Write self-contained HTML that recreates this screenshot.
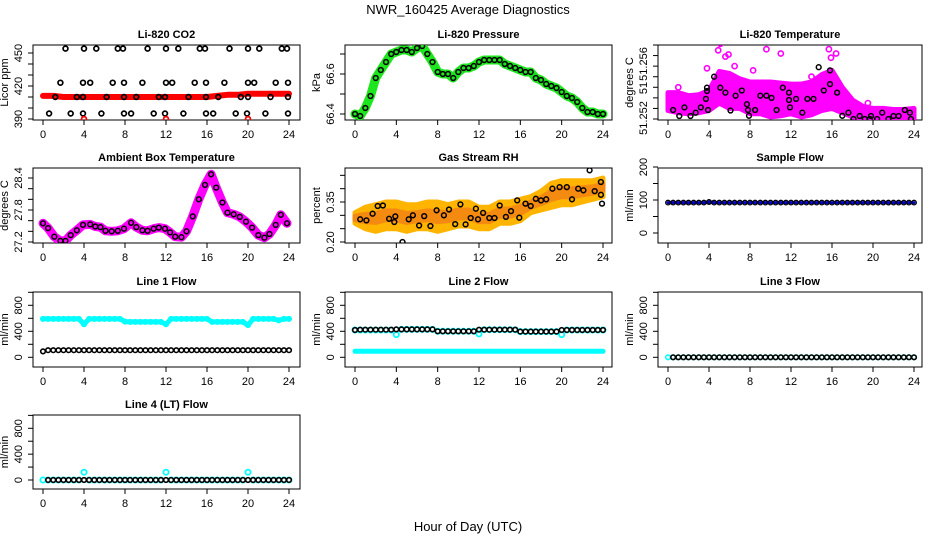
<!DOCTYPE html>
<html><head><meta charset="utf-8"><style>
html,body{margin:0;padding:0;background:#fff;}
svg{display:block;font-family:"Liberation Sans",sans-serif;}
</style></head><body>
<svg id="chart" width="936" height="540" viewBox="0 0 936 540" xmlns="http://www.w3.org/2000/svg">
<rect x="0" y="0" width="936" height="540" fill="#fff"/>
<text x="468" y="14" text-anchor="middle" font-size="13">NWR_160425  Average Diagnostics</text>
<text x="468" y="531" text-anchor="middle" font-size="13">Hour of Day (UTC)</text>
</svg>
<script>
const xTicks=[0,4,8,12,16,20,24];
const halfHours=[0,0.5,1,1.5,2,2.5,3,3.5,4,4.5,5,5.5,6,6.5,7,7.5,8,8.5,9,9.5,10,10.5,11,11.5,12,12.5,13,13.5,14,14.5,15,15.5,16,16.5,17,17.5,18,18.5,19,19.5,20,20.5,21,21.5,22,22.5,23,23.5,24];
const hours=[0,1,2,3,4,5,6,7,8,9,10,11,12,13,14,15,16,17,18,19,20,21,22,23,24];

const co2Band=[411,411,410,410,410,410,410,410,410,410,410,410,410,410,410,410,410,411,412,412,413,413,413,413,413];
const co2Hours=[2.2,4.0,5.2,7.3,7.8,10.2,12.0,13.2,15.3,15.8,18.2,20.0,21.1,23.3,23.8,1.7,3.9,4.6,6.8,7.9,9.7,12.0,12.6,14.8,15.9,17.7,20.0,20.6,22.7,23.9,1.2,3.3,3.9,6.2,7.9,9.1,11.3,11.9,14.2,15.9,17.1,19.3,20.0,22.2,23.9,0.6,2.7,3.9,5.7,7.9,8.6,10.8,11.9,13.7,15.9,16.6,18.8,19.9,21.7,23.9];
const co2Vals=[454,454,454,454,454,454,454,454,454,454,454,454,454,454,454,423,423,423,423,423,423,423,423,423,423,423,423,423,423,423,410,410,410,410,410,410,410,410,410,410,410,410,410,410,410,395,395,395,395,395,395,395,395,395,395,395,395,395,395,395];
const co2RedHours=[4.0,12.0,20.0];
const co2RedVals=[390,390,390];

const pressVals=[66.40,66.39,66.43,66.49,66.58,66.62,66.66,66.70,66.71,66.72,66.72,66.71,66.73,66.74,66.70,66.66,66.61,66.60,66.60,66.58,66.61,66.63,66.63,66.64,66.66,66.67,66.67,66.67,66.67,66.65,66.64,66.63,66.62,66.61,66.61,66.58,66.57,66.55,66.54,66.53,66.51,66.49,66.48,66.46,66.43,66.41,66.41,66.40,66.40];

const tempUpper=[2.5,2.5,2.2,2.3,2.7,4.5,4.3,3.8,3.5,3.5,3.5,3.4,3.3,3.3,3.5,4.2,4.6,3.0,1.8,1.2,1.0,1.0,0.9,0.9,1.0];
const tempLower=[0.8,0.6,0.5,0.6,0.8,1.5,1.0,1.0,0.5,0.5,0.2,0.3,0.5,0.2,0.4,0.8,1.0,0.6,0.2,0.0,0.0,0.0,0.0,0.0,0.0];
const tempOutHours=[5.1,4.9,5.6,5.9,3.8,6.5,8.3,9.6,11.0,15.7,16.4,15.9,19.5,1.0,14.0];
const tempOutVals=[7.1,6.5,5.9,6.1,4.8,5.0,4.6,6.6,6.2,6.6,6.2,5.8,1.5,3.0,4.0];
const tempHours=[0.5,1.1,1.6,2.2,2.7,3.2,3.7,3.8,3.8,3.9,4.5,5.1,5.6,6.1,6.6,7.2,7.7,7.8,7.9,8.5,9.0,9.6,10.1,10.6,11.2,11.8,11.8,11.9,12.5,13.1,13.6,14.2,14.7,15.2,15.8,15.8,16.5,17.0,17.6,18.1,18.7,19.2,19.7,19.8,20.4,20.9,21.5,22.0,22.5,23.1,23.6,23.7];
const tempVals=[0.85,0.28,1.1,0.28,0.6,1.1,1.9,2.96,2.65,0.85,4.0,2.96,2.5,0.8,2.2,2.7,1.4,0.85,0.3,0.85,2.2,2.2,2.0,0.85,2.96,2.5,1.8,1.1,1.9,0.6,1.9,1.9,4.9,2.7,3.3,4.6,2.5,0.3,0.6,0.0,0.28,0.0,0.0,0.28,0.0,0.6,0.0,0.28,0.28,0.85,0.6,0.0];
const tempTickVals=[0,1,2,3,4,5,6,7];

const ambHours=[0,0.5,1.1,1.7,2.2,2.7,3.3,3.9,4.6,5.1,5.6,6.1,6.7,7.3,7.9,8.6,9.1,9.7,10.2,10.8,11.3,11.9,12.4,12.9,13.5,14.0,14.6,15.2,15.8,16.4,16.9,17.5,18.0,18.6,19.2,19.8,20.4,21.0,21.6,22.1,22.7,23.2,23.8];
const ambVals=[27.55,27.46,27.30,27.22,27.22,27.33,27.42,27.52,27.53,27.49,27.48,27.41,27.40,27.41,27.45,27.56,27.48,27.42,27.41,27.45,27.47,27.45,27.38,27.30,27.29,27.40,27.68,28.00,28.27,28.47,28.22,27.94,27.75,27.72,27.67,27.58,27.47,27.33,27.28,27.35,27.52,27.71,27.55];
const ambTicks=[27.2,27.4,27.6,27.8,28.0,28.2,28.4];
const ambLabels=['27.2','','','27.8','','','28.4'];

const rhUpper=[0.31,0.33,0.34,0.35,0.35,0.34,0.34,0.35,0.35,0.34,0.35,0.35,0.33,0.33,0.35,0.35,0.36,0.37,0.39,0.42,0.43,0.43,0.43,0.43,0.44];
const rhLower=[0.27,0.25,0.24,0.25,0.25,0.24,0.25,0.25,0.24,0.25,0.26,0.26,0.25,0.25,0.27,0.27,0.28,0.31,0.32,0.33,0.34,0.34,0.35,0.36,0.37];
const rhHours=[0.5,1.1,1.7,2.2,2.7,3.3,3.8,3.9,4.6,5.2,5.6,6.2,6.7,7.3,7.9,8.6,9.1,9.7,10.2,10.7,11.2,11.7,11.9,12.4,13.0,13.5,14.0,14.6,15.1,15.7,15.9,16.5,17.0,17.5,18.0,18.5,19.1,19.8,20.5,21.0,21.6,22.1,22.7,23.2,23.8,23.8,23.9];
const rhVals=[0.285,0.281,0.306,0.335,0.337,0.287,0.275,0.296,0.20,0.285,0.30,0.262,0.297,0.26,0.319,0.30,0.322,0.267,0.341,0.266,0.29,0.325,0.285,0.309,0.29,0.29,0.337,0.294,0.316,0.356,0.291,0.344,0.335,0.362,0.356,0.36,0.40,0.406,0.406,0.36,0.40,0.394,0.469,0.391,0.425,0.377,0.344];
const rhTicks=[0.20,0.25,0.30,0.35,0.40,0.45];
const rhLabels=['0.20','','','0.35','',''];

const sampleVals=[92,92,92,92,92,92,92,92,94,92,92,92,92,92,92,92,92,92,92,92,92,92,92,92,92,92,92,92,92,92,92,92,92,92,92,92,92,92,92,92,92,92,92,92,92,92,92,92,92];
const sampleTicks=[0,50,100,150,200];
const sampleLabels=['0','','100','','200'];

const flowTicks=[0,200,400,600,800,1000];
const flowLabels=['0','','400','','800',''];
const line1Cyan=[590,590,590,590,590,590,590,590,510,590,590,590,590,590,590,590,550,545,545,545,545,545,545,545,510,590,590,590,590,590,590,590,590,545,545,545,545,545,545,545,495,590,590,590,590,590,570,590,590];
const line1Black=[90,110,110,110,110,110,110,110,110,110,110,110,110,110,110,110,110,110,110,110,110,110,110,110,110,110,110,110,110,110,110,110,110,110,110,110,110,110,110,110,110,110,110,110,110,110,110,110,110];
const line2Black=[420,425,425,425,425,425,425,425,430,430,430,430,430,430,430,430,400,400,400,400,400,400,400,400,425,425,425,425,425,425,425,425,395,395,395,395,395,395,395,395,420,420,420,420,420,420,420,420,420];
const line2CyanHi=[420,420,420,420,420,420,420,420,350,430,430,430,430,430,430,430,400,400,400,400,400,400,400,400,360,425,425,425,425,425,425,425,395,395,395,395,395,395,395,395,350,420,420,420,420,420,420,420,420];
const line2CyanLo=[92,92,92,92,92,92,92,92,92,92,92,92,92,92,92,92,92,92,92,92,92,92,92,92,92,92,92,92,92,92,92,92,92,92,92,92,92,92,92,92,92,92,92,92,92,92,92,92,92];
const line3Vals=[0,0,0,0,0,0,0,0,0,0,0,0,0,0,0,0,0,0,0,0,0,0,0,0,0,0,0,0,0,0,0,0,0,0,0,0,0,0,0,0,0,0,0,0,0,0,0,0,0];
const line4Black=[0,0,0,0,0,0,0,0,0,0,0,0,0,0,0,0,0,0,0,0,0,0,0,0,0,0,0,0,0,0,0,0,0,0,0,0,0,0,0,0,0,0,0,0,0,0,0,0,0];
const line4Cyan=[0,0,0,0,0,0,0,0,120,0,0,0,0,0,0,0,0,0,0,0,0,0,0,0,120,0,0,0,0,0,0,0,0,0,0,0,0,0,0,0,120,0,0,0,0,0,0,0,0];

const NS='http://www.w3.org/2000/svg';
const svg=document.getElementById('chart');
const COLS=[{bl:33,br:300,x0:43,x1:289},{bl:345,br:612,x0:355,x1:603},{bl:658,br:922,x0:668,x1:914}];
const ROWS=[{t:45,b:120},{t:168,b:243},{t:292,b:367},{t:415,b:489}];

function mk(tag,attrs,parent){
  const e=document.createElementNS(NS,tag);
  for(const k in attrs) e.setAttribute(k,attrs[k]);
  parent.appendChild(e);
  return e;
}

function panel(name,title,ci,ri,yTitle,v0,p0,v1,p1,tv,tl,tlPos){
  const c=COLS[ci], r=ROWS[ri];
  const g=mk('g',{},svg);
  
  
  const X=h=>c.x0+(c.x1-c.x0)*h/24;
  const Y=v=>p0+(p1-p0)*(v-v0)/(v1-v0);
  const clipId='clip-'+name;
  const cp=mk('clipPath',{id:clipId},g);
  mk('rect',{x:c.bl,y:r.t,width:c.br-c.bl,height:r.b-r.t},cp);
  const box=mk('rect',{x:c.bl,y:r.t,width:c.br-c.bl,height:r.b-r.t,fill:'none',stroke:'#000','stroke-width':1},g);
  
  
  const tt=mk('text',{x:(c.bl+c.br)/2,y:r.t-7,'text-anchor':'middle','font-size':11,'font-weight':'bold'},g);
  tt.textContent=title;
  
  
  const xa=mk('g',{},g);
  
  
  mk('line',{x1:X(0),x2:X(24),y1:r.b,y2:r.b,stroke:'#000'},xa);
  xTicks.forEach(h=>{
    mk('line',{x1:X(h),x2:X(h),y1:r.b,y2:r.b+5,stroke:'#000'},xa);
    const t=mk('text',{x:X(h),y:r.b+18,'text-anchor':'middle','font-size':11},xa);
    t.textContent=String(h);
    
    
  });
  const ya=mk('g',{},g);
  
  
  tv.forEach((v,i)=>{
    mk('line',{x1:c.bl-5,x2:c.bl,y1:Y(v),y2:Y(v),stroke:'#000'},ya);
    if(tl[i]){
      const yy=tlPos?tlPos[i]:Y(v);
      const t=mk('text',{x:c.bl-11,y:yy,'text-anchor':'middle','font-size':11,transform:'rotate(-90 '+(c.bl-11)+' '+yy+')'},ya);
      t.textContent=tl[i];
      
      
    }
  });
  const ym=(r.t+r.b)/2;
  const yt=mk('text',{x:c.bl-25,y:ym,'text-anchor':'middle','font-size':11,transform:'rotate(-90 '+(c.bl-25)+' '+ym+')'},g);
  yt.textContent=yTitle;
  
  
  const data=mk('g',{'clip-path':'url(#'+clipId+')'},g);
  
  
  return {X,Y,data};
}

function linePath(P,xs,vs){return xs.map((h,i)=>(i?'L':'M')+P.X(h).toFixed(1)+' '+P.Y(vs[i]).toFixed(1)).join(' ');}
function band(P,name,xs,up,lo,fill){
  let d=xs.map((h,i)=>(i?'L':'M')+P.X(h).toFixed(1)+' '+P.Y(up[i]).toFixed(1)).join(' ');
  for(let i=xs.length-1;i>=0;i--) d+=' L'+P.X(xs[i]).toFixed(1)+' '+P.Y(lo[i]).toFixed(1);
  const e=mk('path',{d:d+' Z',fill:fill,stroke:fill,'stroke-width':5,'stroke-linejoin':'round'},P.data);
  
  
}
function thick(P,name,xs,vs,col,w){
  const e=mk('path',{d:linePath(P,xs,vs),fill:'none',stroke:col,'stroke-width':w,'stroke-linejoin':'round','stroke-linecap':'round'},P.data);
  
  
}
function pts(P,name,xs,vs,col,r,sw){
  const g=mk('g',{},P.data);
  
  
  xs.forEach((h,i)=>{
    const c=mk('circle',{cx:P.X(h).toFixed(1),cy:P.Y(vs[i]).toFixed(1),r:r,fill:'none',stroke:col,'stroke-width':sw},g);
    
    
  });
}

let P=panel('co2','Li-820 CO2',0,0,'Licor ppm',390,119,450,53,[390,400,410,420,430,440,450],['390','','','420','','','450']);
thick(P,'co2-red-band',hours,co2Band,'#ff0000',6);
pts(P,'co2-points',co2Hours,co2Vals,'#000',2.4,1.7);
pts(P,'co2-red-points',co2RedHours,co2RedVals,'#ff0000',2.4,1.8);

P=panel('pressure','Li-820 Pressure',1,0,'kPa',66.4,114,66.6,74,[66.4,66.5,66.6,66.7],['66.4','','66.6','']);
thick(P,'pressure-green-band',halfHours,pressVals,'#1ee61e',9);
pts(P,'pressure-points',halfHours,pressVals,'#000',2.4,1.5);

P=panel('temperature','Li-820 Temperature',2,0,'degrees C',0,119,7,45,tempTickVals,['51.252','','','51','','51.256','',''],[118,0,0,88,0,64,0,0]);
band(P,'temperature-magenta-band',hours,tempUpper,tempLower,'#ff00ff');
pts(P,'temperature-magenta-outliers',tempOutHours,tempOutVals,'#ff00ff',2.6,1.6);
pts(P,'temperature-points',tempHours,tempVals,'#000',2.4,1.5);

P=panel('ambient','Ambient Box Temperature',0,1,'degrees C',27.2,242,28.4,178,ambTicks,ambLabels);
thick(P,'ambient-magenta-band',ambHours,ambVals,'#ff00ff',9);
pts(P,'ambient-points',ambHours,ambVals,'#000',2.4,1.5);

P=panel('rh','Gas Stream RH',1,1,'percent',0.20,242,0.35,202,rhTicks,rhLabels);
band(P,'rh-orange-band',hours,rhUpper,rhLower,'#ffb400');
band(P,'rh-red-core',hours,rhUpper.map((u,i)=>(u+rhLower[i]*2)/3),rhUpper.map((u,i)=>(u*2+rhLower[i])/3),'#f58a10');
pts(P,'rh-points',rhHours,rhVals,'#000',2.4,1.5);

P=panel('sample-flow','Sample Flow',2,1,'ml/min',0,233,200,167,sampleTicks,sampleLabels);
thick(P,'sample-flow-blue-line',halfHours,sampleVals,'#0000cc',3);
pts(P,'sample-flow-points',halfHours,sampleVals,'#000',2.3,1.3);

P=panel('line1-flow','Line 1 Flow',0,2,'ml/min',0,357.3,800,305.3,flowTicks,flowLabels);
thick(P,'line1-cyan-series',halfHours,line1Cyan,'#00ffff',5);
pts(P,'line1-cyan-points',halfHours,line1Cyan,'#00ffff',2.3,1.5);
pts(P,'line1-black-points',halfHours,line1Black,'#000',2.3,1.6);

P=panel('line2-flow','Line 2 Flow',1,2,'ml/min',0,357.3,800,305.3,flowTicks,flowLabels);
thick(P,'line2-cyan-low',halfHours,line2CyanLo,'#00ffff',5);
pts(P,'line2-cyan-points',halfHours,line2CyanHi,'#00ffff',2.6,1.8);
pts(P,'line2-black-points',halfHours,line2Black,'#000',2.3,1.6);

P=panel('line3-flow','Line 3 Flow',2,2,'ml/min',0,357.3,800,305.3,flowTicks,flowLabels);
pts(P,'line3-cyan-points',halfHours,line3Vals,'#00ffff',2.3,1.5);
pts(P,'line3-black-points',halfHours.slice(1),line3Vals.slice(1),'#000',2.3,1.6);

P=panel('line4-flow','Line 4 (LT) Flow',0,3,'ml/min',0,480,800,428.3,flowTicks,flowLabels);
pts(P,'line4-cyan-points',halfHours,line4Cyan,'#00ffff',2.6,1.8);
pts(P,'line4-black-points',halfHours.slice(1),line4Black.slice(1),'#000',2.3,1.6);
</script>
</body></html>
